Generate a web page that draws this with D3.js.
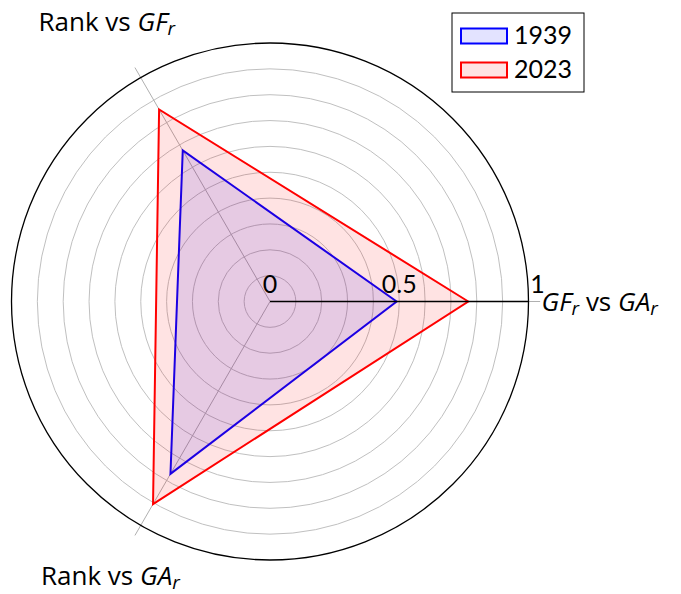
<!DOCTYPE html>
<html>
<head>
<meta charset="utf-8">
<script src="https://cdn.jsdelivr.net/npm/d3@7"></script>
<style>
    body { margin: 0; background: #fff; }
    svg text { font-family: Lato, "Noto Sans", sans-serif; fill: #000; }
    svg text.axis-label { font-family: "Open Sans", Lato, sans-serif; }
</style>
</head>
<body>
<div id="chart"></div>
<script>
/*
 * Chart data.
 */
var axes = [
    { angle: 0,   main: 'GF', sub: 'r', rest: ' vs ', main2: 'GA', sub2: 'r', plain: '' },
    { angle: 120, plain: 'Rank vs ', main: 'GF', sub: 'r' },
    { angle: 240, plain: 'Rank vs ', main: 'GA', sub: 'r' }
];
var years = ['1939', '2023'];
var values1939 = [0.49, 0.675, 0.77];
var values2023 = [0.767, 0.858, 0.905];
var gridValues = [0.1, 0.2, 0.3, 0.4, 0.5, 0.6, 0.7, 0.8, 0.9];
var tickValues = [0, 0.5, 1];
var tickLabels = ['0', '0.5', '1'];

var colors = ['#0000ff', '#ff0000'];

var width = 681, height = 594;
var cx = 270, cy = 301.5, radius = 258.5;

var svg = d3.select('#chart').append('svg')
    .attr('width', width)
    .attr('height', height);

var r = d3.scaleLinear().domain([0, 1]).range([0, radius]);

/*
 * Polar to cartesian (angles counter clockwise, degrees).
 */
function point(angle, value) {
    var a = angle * Math.PI / 180;
    return [cx + r(value) * Math.cos(a), cy - r(value) * Math.sin(a)];
}

var g = svg.append('g');

/*
 * Grid circles.
 */
g.selectAll('circle.grid')
    .data(gridValues)
    .enter().append('circle')
    .attr('class', 'grid')
    .attr('cx', cx).attr('cy', cy)
    .attr('r', d => r(d))
    .attr('fill', 'none')
    .attr('stroke', '#c0c0c0')
    .attr('stroke-width', 1);

/*
 * Axis spokes.
 */
g.selectAll('line.spoke')
    .data(axes)
    .enter().append('line')
    .attr('class', 'spoke')
    .attr('x1', cx).attr('y1', cy)
    .attr('x2', d => point(d.angle, 1.045)[0])
    .attr('y2', d => point(d.angle, 1.045)[1])
    .attr('stroke', '#b0b0b0')
    .attr('stroke-width', 1);

/*
 * Data polygons.
 */
var series = [values1939, values2023];
var line = d3.line().curve(d3.curveLinearClosed);

g.selectAll('path.series')
    .data(series)
    .enter().append('path')
    .attr('class', 'series')
    .attr('d', vals => line(vals.map((v, i) => point(axes[i].angle, v))))
    .attr('fill', (d, i) => colors[i])
    .attr('fill-opacity', 0.11)
    .attr('stroke', (d, i) => colors[i])
    .attr('stroke-width', 2)
    .attr('stroke-linejoin', 'miter');

/*
 * Main axis and outer circle.
 */
g.append('line')
    .attr('x1', cx).attr('y1', cy)
    .attr('x2', point(0, 1)[0]).attr('y2', cy)
    .attr('stroke', '#000')
    .attr('stroke-width', 1.3);

g.append('circle')
    .attr('cx', cx).attr('cy', cy)
    .attr('r', r(1))
    .attr('fill', 'none')
    .attr('stroke', '#000')
    .attr('stroke-width', 1.3);

/*
 * Tick labels.
 */
g.selectAll('text.tick')
    .data(tickValues)
    .enter().append('text')
    .attr('class', 'tick')
    .attr('x', (d, i) => r(d) + cx + (i === tickValues.length - 1 ? 9 : 0))
    .attr('y', cy - 9)
    .attr('text-anchor', 'middle')
    .attr('font-size', 25)
    .text((d, i) => tickLabels[i]);

/*
 * Axis labels.
 */
var labelPos = [
    { rr: 1.0, anchor: 'start', dx: 13, dy: 9 },
    { rr: 1.255, anchor: 'middle', dx: -1, dy: 10 },
    { rr: 1.235, anchor: 'middle', dx: 0, dy: 7 }
];

axes.forEach(function(a, i) {
    var p = point(a.angle, labelPos[i].rr);
    var t = g.append('text')
        .attr('class', 'axis-label')
        .attr('x', p[0] + labelPos[i].dx)
        .attr('y', p[1] + labelPos[i].dy)
        .attr('text-anchor', labelPos[i].anchor)
        .attr('font-size', 26);
    if (a.plain) t.append('tspan').text(a.plain);
    t.append('tspan').attr('font-style', 'italic').text(a.main);
    t.append('tspan').attr('font-style', 'italic').attr('font-size', 19).attr('dy', 4).text(a.sub);
    if (a.rest) {
        t.append('tspan').attr('dy', -4).text(a.rest);
        t.append('tspan').attr('font-style', 'italic').text(a.main2);
        t.append('tspan').attr('font-style', 'italic').attr('font-size', 19).attr('dy', 4).text(a.sub2);
    }
});

/*
 * Legend.
 */
var legend = svg.append('g').attr('transform', 'translate(452,13)');

legend.append('rect')
    .attr('width', 132).attr('height', 79)
    .attr('fill', '#fff')
    .attr('stroke', '#000')
    .attr('stroke-width', 1);

var item = legend.selectAll('g.item')
    .data(years)
    .enter().append('g')
    .attr('class', 'item')
    .attr('transform', (d, i) => 'translate(9,' + (15.5 + i * 34) + ')');

item.append('rect')
    .attr('width', 46).attr('height', 15)
    .attr('fill', (d, i) => colors[i])
    .attr('fill-opacity', 0.11)
    .attr('stroke', (d, i) => colors[i])
    .attr('stroke-width', 2);

item.append('text')
    .attr('x', 53).attr('y', 15)
    .attr('font-size', 25)
    .text(d => d);
</script>
</body>
</html>
